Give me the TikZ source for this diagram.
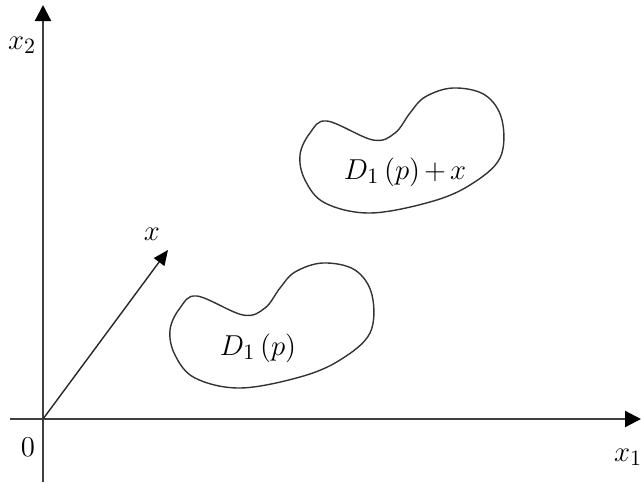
\documentclass[tikz,border=0pt]{standalone}
\usetikzlibrary{arrows.meta}

\begin{document}
\begin{tikzpicture}[
  x=0.5pt,y=-0.5pt,
  axis/.style={
    draw=black!75,
    line width=1.1pt,
    -{Triangle[length=8pt,width=8pt,color=black,fill=black]}
  },
  shift arrow/.style={
    draw=black!85,
    line width=0.7pt,
    -{Triangle[length=7.5pt,width=6.5pt,color=black,fill=black]}
  },
  region/.style={
    draw=black!80,
    line width=0.7pt
  },
  math label/.style={
    font=\fontsize{15}{18}\selectfont,
    inner sep=0pt
  }
]
  \useasboundingbox (0,0) rectangle (641,482);

  \coordinate (origin) at (43,419);
  \coordinate (x1-start) at (10,419);
  \coordinate (x1-end) at (641,419);
  \coordinate (x2-start) at (43,482);
  \coordinate (x2-end) at (43,5);
  \coordinate (x-tip) at (168,250);

  \draw[axis] (x1-start)--(x1-end);
  \draw[axis] (x2-start)--(x2-end);
  \draw[shift arrow] (origin)--(x-tip);

  \def\regionpath{plot[smooth cycle,tension=0.6] coordinates {
    (197,296) (243,315) (265,308) (280,288) (295,272) (323,263)
    (355,270) (372,295) (370,333) (340,360) (300,377) (240,388)
    (195,378) (175,355) (170,330) (180,308)}}

  \draw[region] \regionpath;
  \draw[region,shift={(130,-175)}] \regionpath;

  \node[math label] (region-label) at (258,348) {$D_1\,(p)$};
  \node[math label] (shifted-label) at (405,172) {$D_1\,(p)\mskip-1.5mu+\mskip-1.5mu x$};

  \node[math label] (x2-label) at (22,45) {$x_2$};
  \node[math label] (x1-label) at (628,457) {$x_1$};
  \node[math label] (zero-label) at (28,447) {$0$};
  \node[math label] (x-label) at (152,234) {$x$};
\end{tikzpicture}
\end{document}
